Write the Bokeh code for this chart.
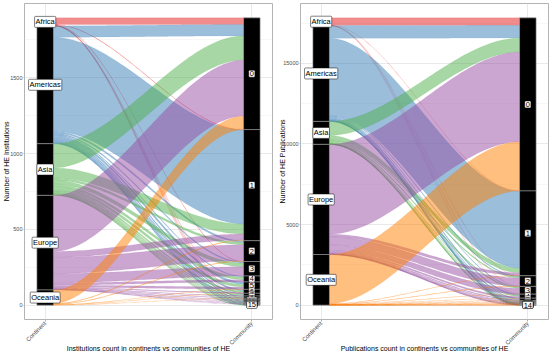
import numpy as np
from bokeh.plotting import figure
from bokeh.layouts import row
from bokeh.models import ColumnDataSource, FixedTicker, Range1d
from bokeh.core.properties import value
from bokeh.embed import file_html
from bokeh.resources import INLINE

FONT = "Liberation Sans"

continents = ["Africa", "Americas", "Asia", "Europe", "Oceania"]
continent_colors = ["#E41A1C", "#377EB8", "#4DAF4A", "#984EA3", "#FF7F00"]
axis_names = ["Continent", "Community"]

# ---- Institutions per (continent, community) ----
inst_communities = [str(i) for i in range(16)]
inst_africa   = [44, 3, 0, 2, 0, 0, 0, 1, 0, 1, 0, 1, 0, 0, 1, 0]
inst_americas = [75, 620, 12, 8, 6, 15, 10, 7, 5, 4, 4, 3, 3, 2, 2, 1]
inst_asia     = [160, 66, 15, 25, 18, 18, 10, 7, 5, 4, 3, 3, 2, 2, 1, 2]
inst_europe   = [370, 40, 106, 61, 15, 14, 5, 3, 3, 2, 2, 1, 1, 1, 0, 0]
inst_oceania  = [88, 4, 4, 0, 0, 2, 1, 0, 1, 0, 0, 0, 0, 0, 0, 0]
inst_yticks = [0, 500, 1000, 1500]

# ---- Publications per (continent, community) ----
pub_communities = [str(i) for i in range(15)]
pub_africa   = [464, 5, 3, 2, 1, 0, 0, 0, 0, 0, 0, 0, 0, 0, 0]
pub_americas = [790, 4790, 60, 40, 90, 50, 30, 25, 20, 15, 12, 10, 8, 6, 4]
pub_asia     = [870, 280, 70, 80, 50, 25, 15, 10, 5, 5, 4, 4, 3, 2, 2]
pub_europe   = [5570, 170, 500, 350, 100, 55, 30, 20, 13, 8, 7, 5, 3, 3, 1]
pub_oceania  = [3045, 20, 25, 10, 10, 10, 5, 5, 2, 2, 2, 1, 1, 1, 1]
pub_yticks = [0, 5000, 10000, 15000]

HW = 0.04  # half width of strata


def make_panel(rows, communities, yticks, ylabel, xlabel, border_left, ylab_standoff):
    F = np.array(rows, dtype=float)
    K, M = F.shape
    total = F.sum()
    cont_sizes = F.sum(axis=1)
    comm_sizes = F.sum(axis=0)
    cont_top = total - np.concatenate([[0], np.cumsum(cont_sizes)[:-1]])
    comm_top = total - np.concatenate([[0], np.cumsum(comm_sizes)[:-1]])

    p = figure(width=275, height=356, output_backend="svg", toolbar_location=None,
               x_range=Range1d(0.9, 2.1),
               y_range=Range1d(-0.05 * total, 1.05 * total),
               min_border_left=border_left, min_border_right=275 - border_left - 248,
               min_border_top=3, min_border_bottom=37)
    p.outline_line_color = "#B3B3B3"
    p.outline_line_width = 1
    p.background_fill_color = "white"
    p.border_fill_color = "white"

    step = yticks[1] - yticks[0]
    minors = [t + step / 2 for t in yticks] + [yticks[0] - step / 2]
    p.yaxis.ticker = FixedTicker(ticks=yticks, minor_ticks=minors)
    p.xaxis.ticker = FixedTicker(ticks=[1, 2])
    p.xaxis.major_label_overrides = {1: axis_names[0], 2: axis_names[1]}
    p.xaxis.major_label_orientation = np.pi / 4

    for ax in (p.xaxis[0], p.yaxis[0]):
        ax.axis_line_color = None
        ax.major_tick_line_color = "#B3B3B3"
        ax.major_tick_in = 0
        ax.minor_tick_out = 0
        ax.minor_tick_in = 0
        ax.major_label_text_font = FONT
        ax.major_label_text_color = "#4D4D4D"
        ax.major_label_standoff = 1
        ax.axis_label_text_font = FONT
        ax.axis_label_text_font_style = "normal"
        ax.axis_label_text_color = "black"
    p.xaxis.major_tick_out = 2
    p.yaxis.major_tick_out = 1
    p.xaxis.major_label_text_font_size = "6px"
    p.yaxis.major_label_text_font_size = "5.5px"
    p.xaxis.axis_label_text_font_size = "7px"
    p.yaxis.axis_label_text_font_size = "7px"
    p.yaxis.axis_label = ylabel
    p.xaxis.axis_label = xlabel
    p.yaxis.axis_label_standoff = ylab_standoff
    p.xaxis.axis_label_standoff = -6

    p.xgrid.grid_line_color = "#E3E3E3"
    p.xgrid.grid_line_width = 0.8
    p.ygrid.grid_line_color = "#E3E3E3"
    p.ygrid.grid_line_width = 0.8
    p.ygrid.minor_grid_line_color = "#EFEFEF"
    p.ygrid.minor_grid_line_width = 0.5

    # flows (alluvia), ordered by community within each continent and
    # by continent within each community
    x0, x1 = 1 + HW, 2 - HW
    t = np.linspace(0, 1, 60)
    s = 3 * t ** 2 - 2 * t ** 3
    xs_line = x0 + (x1 - x0) * t
    pxs, pys, pcol = [], [], []
    for k in range(K):
        for m in range(M):
            v = F[k, m]
            if v <= 0:
                continue
            lt = cont_top[k] - F[k, :m].sum()
            rt = comm_top[m] - F[:k, m].sum()
            top = lt + (rt - lt) * s
            bot = top - v
            pxs.append(list(xs_line) + list(xs_line[::-1]))
            pys.append(list(top) + list(bot[::-1]))
            pcol.append(continent_colors[k])
    p.patches(xs=pxs, ys=pys, fill_color=pcol, fill_alpha=0.5,
              line_color=pcol, line_alpha=0.22, line_width=0.4)

    # strata
    left_b = list(cont_top - cont_sizes)
    right_b = list(comm_top - comm_sizes)
    p.quad(left=[1 - HW] * K + [2 - HW] * M, right=[1 + HW] * K + [2 + HW] * M,
           top=list(cont_top) + list(comm_top), bottom=left_b + right_b,
           fill_color="black", line_color="#9A9A9A", line_width=0.6)

    # stratum labels
    lab = ColumnDataSource(dict(
        x=[1] * K + [2] * M,
        y=list(cont_top - cont_sizes / 2) + list(comm_top - comm_sizes / 2),
        text=list(continents) + list(communities)))
    p.text(x="x", y="y", text="text", source=lab, text_font=value(FONT),
           text_font_size="7.5px", text_align="center", text_baseline="middle",
           text_color="black", background_fill_color="white",
           border_line_color="black", border_line_width=0.5, padding=1,
           border_radius=1)
    return p


p1 = make_panel([inst_africa, inst_americas, inst_asia, inst_europe, inst_oceania],
                inst_communities, inst_yticks, "Number of HE Institutions",
                "Institutions count in continents vs communities of HE", 24, -3)
p2 = make_panel([pub_africa, pub_americas, pub_asia, pub_europe, pub_oceania],
                pub_communities, pub_yticks, "Number of HE Publications",
                "Publications count in continents vs communities of HE", 25, -6)

layout = row(p1, p2)
open("out.html", "w").write(file_html(layout, INLINE))
